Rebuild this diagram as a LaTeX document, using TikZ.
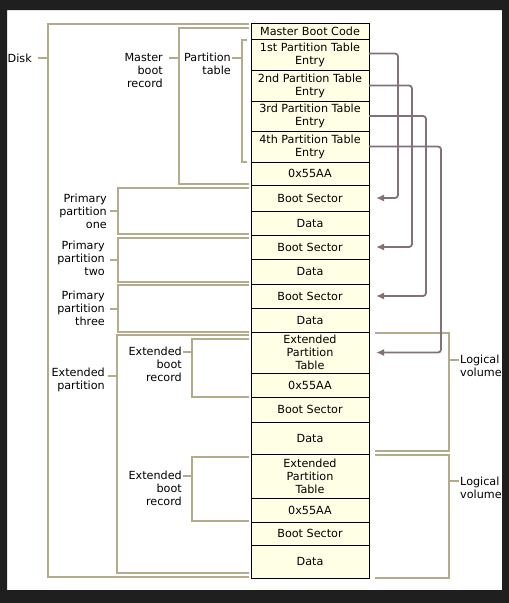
\documentclass[tikz,border=0pt]{standalone}
\usepackage{fontspec}
\setmainfont{DejaVu Sans}
\usetikzlibrary{
arrows.meta,
positioning
}
\definecolor{bracketTan}{HTML}{B4AA8C}
\definecolor{arrowMauve}{HTML}{84707A}
\definecolor{cellYellow}{HTML}{FFFFE6}
\definecolor{frameDark}{HTML}{1F1F1F}

\begin{document}
\begin{tikzpicture}[
    x=1pt,
    y=-1pt,
    font=\fontsize{11.2}{13}\selectfont,
    cell/.style={
        draw=black,
        line width=0.8pt,
        fill=cellYellow,
        minimum width=118pt,
        inner sep=1pt,
        outer sep=0pt,
        align=center
    },
    bracket/.style={
        bracketTan,
        line width=2pt
    },
    ptarrow/.style={
        arrowMauve,
        line width=1.8pt,
        rounded corners=3pt,
        -{Latex[length=8pt,width=7pt]},
        shorten >=7pt
    },
    lbl/.style={
        align=right,
        anchor=east,
        inner sep=0pt
    },
    rlbl/.style={
        align=left,
        anchor=west,
        inner sep=0pt
    }
]

\useasboundingbox (0,0) rectangle (509,603);

% Page
\fill[white] (7,10) rectangle (502,590);

% =========================
% DISK LAYOUT COLUMN
% =========================
\node[cell, minimum height=16] (mbc) at (310,31) {Master Boot Code};
\node[cell, minimum height=31, below=0pt of mbc] (pte1) {1st Partition Table\\Entry};
\node[cell, minimum height=31, below=0pt of pte1] (pte2) {2nd Partition Table\\Entry};
\node[cell, minimum height=30, below=0pt of pte2] (pte3) {3rd Partition Table\\Entry};
\node[cell, minimum height=31, below=0pt of pte3] (pte4) {4th Partition Table\\Entry};
\node[cell, minimum height=23, below=0pt of pte4] (sig1) {0x55AA};
\node[cell, minimum height=26, below=0pt of sig1] (bs1) {Boot Sector};
\node[cell, minimum height=24, below=0pt of bs1] (data1) {Data};
\node[cell, minimum height=24, below=0pt of data1] (bs2) {Boot Sector};
\node[cell, minimum height=25, below=0pt of bs2] (data2) {Data};
\node[cell, minimum height=24, below=0pt of data2] (bs3) {Boot Sector};
\node[cell, minimum height=24, below=0pt of bs3] (data3) {Data};
\node[cell, minimum height=41, below=0pt of data3] (ept1) {Extended\\Partition\\Table};
\node[cell, minimum height=24, below=0pt of ept1] (sig2) {0x55AA};
\node[cell, minimum height=25, below=0pt of sig2] (bs4) {Boot Sector};
\node[cell, minimum height=32, below=0pt of bs4] (data4) {Data};
\node[cell, minimum height=44, below=0pt of data4] (ept2) {Extended\\Partition\\Table};
\node[cell, minimum height=24, below=0pt of ept2] (sig3) {0x55AA};
\node[cell, minimum height=23, below=0pt of sig3] (bs5) {Boot Sector};
\node[cell, minimum height=33, below=0pt of bs5] (data5) {Data};

% =========================
% LEFT LABELS
% =========================
\node[lbl] (disk) at (32,58) {Disk};
\node[lbl] (mbr) at (163,70) {Master\\boot\\record};
\node[lbl] (ptab) at (231,63.5) {Partition\\table};
\node[lbl] (pp1) at (107,211) {Primary\\partition\\one};
\node[lbl] (pp2) at (105,258) {Primary\\partition\\two};
\node[lbl] (pp3) at (105,308) {Primary\\partition\\three};
\node[lbl] (extp) at (105,380) {Extended\\partition};
\node[lbl] (ebr1) at (182,364) {Extended\\boot\\record};
\node[lbl] (ebr2) at (182,488) {Extended\\boot\\record};

% =========================
% RIGHT LABELS
% =========================
\node[rlbl] (lv1) at (460,366) {Logical\\volume};
\node[rlbl] (lv2) at (460,488) {Logical\\volume};

% =========================
% BRACKETS
% =========================
\coordinate (diskSpine) at (48,58);
\coordinate (mbrSpine) at (179,58);
\coordinate (ptabSpine) at (242,58);
\coordinate (pp1Spine) at (118,211);
\coordinate (pp2Spine) at (118,260);
\coordinate (pp3Spine) at (118,309);
\coordinate (extSpine) at (117,376);
\coordinate (ebr1Spine) at (192,352);
\coordinate (ebr2Spine) at (192,476);
\coordinate (lv1Spine) at (449,360);
\coordinate (lv2Spine) at (449,481);

\draw[bracket] ([xshift=-2,yshift=-1]mbc.north west) -| (diskSpine) |- ([xshift=-2,yshift=1]data5.south west);
\draw[bracket] (diskSpine) -- ++(-10,0);

\draw[bracket] ([xshift=-2,yshift=-5]mbc.north west) -| (mbrSpine) |- ([xshift=-2,yshift=1]sig1.south west);
\draw[bracket] (mbrSpine) -- ++(-10,0);

\draw[bracket] ([xshift=-4,yshift=-1]pte1.north west) -| (ptabSpine) |- ([xshift=-4]pte4.south west);
\draw[bracket] (ptabSpine) -- ++(-10,0);

\draw[bracket] ([xshift=-2,yshift=-3]bs1.north west) -| (pp1Spine) |- ([xshift=-2,yshift=1]data1.south west);
\draw[bracket] (pp1Spine) -- ++(-8,0);

\draw[bracket] ([xshift=-2,yshift=-3]bs2.north west) -| (pp2Spine) |- ([xshift=-2,yshift=2]data2.south west);
\draw[bracket] (pp2Spine) -- ++(-8,0);

\draw[bracket] ([xshift=-2,yshift=-1]bs3.north west) -| (pp3Spine) |- ([xshift=-2]data3.south west);
\draw[bracket] (pp3Spine) -- ++(-8,0);

\draw[bracket] ([xshift=-2,yshift=-3]ept1.north west) -| (extSpine) |- ([xshift=-2,yshift=5]data5.south west);
\draw[bracket] (extSpine) -- ++(-9,0);

\draw[bracket] ([xshift=-2,yshift=-7]ept1.north west) -| (ebr1Spine) |- ([xshift=-2]sig2.south west);
\draw[bracket] (ebr1Spine) -- ++(-9,0);

\draw[bracket] ([xshift=-2,yshift=-3]ept2.north west) -| (ebr2Spine) |- ([xshift=-2,yshift=1]sig3.south west);
\draw[bracket] (ebr2Spine) -- ++(-9,0);

\draw[bracket] ([xshift=6,yshift=-1]ept1.north east) -| (lv1Spine) |- ([xshift=6,yshift=3]data4.south east);
\draw[bracket] (lv1Spine) -- ++(10,0);

\draw[bracket] ([xshift=6,yshift=-1]ept2.north east) -| (lv2Spine) |- ([xshift=6]data5.south east);
\draw[bracket] (lv2Spine) -- ++(10,0);

% =========================
% PARTITION TABLE POINTERS
% =========================
\draw[ptarrow] ([yshift=1]pte1.east) -| ([xshift=29]bs1.east) -- (bs1.east);
\draw[ptarrow] (pte2.east) -| ([xshift=43]bs2.east) -- (bs2.east);
\draw[ptarrow] (pte3.east) -| ([xshift=57]bs3.east) -- (bs3.east);
\draw[ptarrow] (pte4.east) -| ([xshift=72]ept1.east) -- (ept1.east);

% Window frame
\fill[frameDark, even odd rule] (0,0) rectangle (509,603) (7,10) rectangle (502,590);

\end{tikzpicture}
\end{document}
